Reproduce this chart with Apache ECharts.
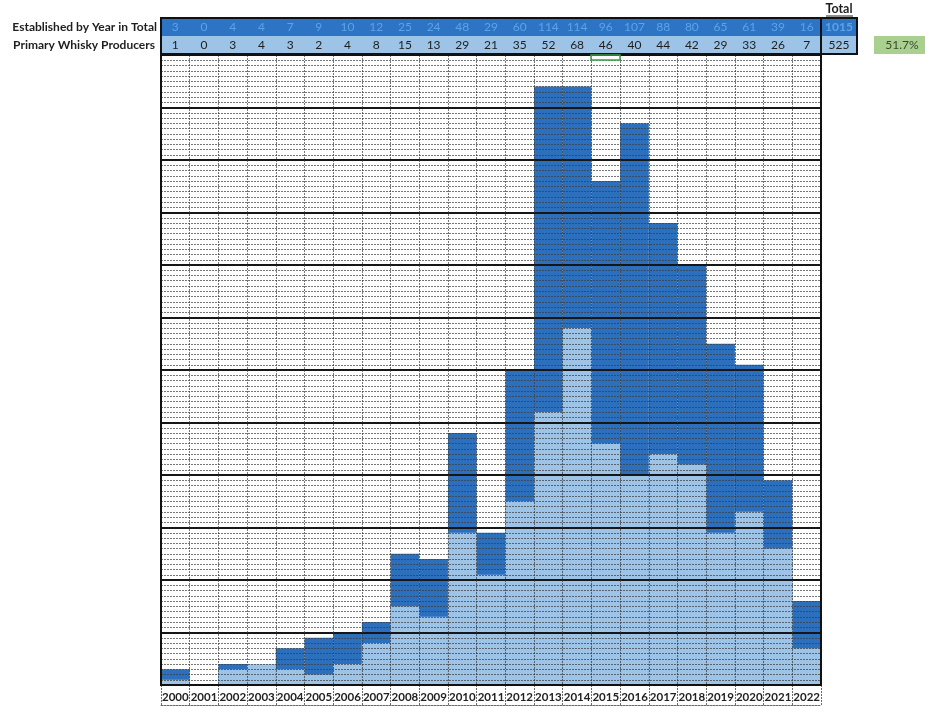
<!DOCTYPE html>
<html>
<head>
<meta charset="utf-8">
<script src="https://cdn.jsdelivr.net/npm/echarts/dist/echarts.min.js"></script>
<style>
html,body{margin:0;padding:0;background:#fff;}
#chart{width:925px;height:709px;}
</style>
</head>
<body>
<div id="chart"></div>
<script>
// ---- data ----
const years = ['2000','2001','2002','2003','2004','2005','2006','2007','2008','2009','2010','2011','2012','2013','2014','2015','2016','2017','2018','2019','2020','2021','2022'];
const totalByYear = [3,0,4,4,7,9,10,12,25,24,48,29,60,114,114,96,107,88,80,65,61,39,16];
const primaryProducers = [1,0,3,4,3,2,4,8,15,13,29,21,35,52,68,46,40,44,42,29,33,26,7];
const rowLabels = ['Established by Year in Total', 'Primary Whisky Producers'];
const totalHeader = 'Total';

// derived
const sumTotal = totalByYear.reduce((a, b) => a + b, 0);
const sumPrimary = primaryProducers.reduce((a, b) => a + b, 0);
const share = (sumPrimary / sumTotal * 100).toFixed(1) + '%';

// ---- layout ----
const L = 161, R = 821, TOP = 55, BOT = 685;
const TBL_TOP = 18, ROW_H = 18, TBL_RIGHT = 857;
const DARK = '#2C6FBC', LIGHT = '#9DC3E6';
const ROW1_BG = '#2E74C4', ROW1_TXT = '#5EA2E6';
const FONT = "'Lato', sans-serif";
const dotted = { color: 'rgba(60,60,60,0.7)', width: 1, type: [2, 1] };
const boxLine = { color: '#6a6a6a', width: 1, type: [2, 1] };

const chart = echarts.init(document.getElementById('chart'));
chart.setOption({
  animation: false,
  backgroundColor: '#ffffff',
  grid: [
    { left: L, right: 925 - R, top: TOP, bottom: 709 - BOT, show: true, backgroundColor: 'transparent', borderColor: '#111', borderWidth: 2, z: 10 }
  ],
  xAxis: [
    { gridIndex: 0, type: 'category', data: years, z: 5,
      axisLine: { show: false },
      axisTick: { show: true, interval: 0, length: 20, lineStyle: boxLine },
      axisLabel: { interval: 0, margin: 6, fontFamily: FONT, fontSize: 11.5, fontWeight: 'bold', color: '#222' },
      splitLine: { show: true, interval: 0, lineStyle: dotted } },
    { gridIndex: 0, type: 'category', data: totalByYear.map(String), position: 'top', z: 5,
      axisLine: { show: false }, axisTick: { show: false },
      axisLabel: { interval: 0, margin: 28, verticalAlign: 'middle', fontFamily: FONT, fontSize: 12, color: ROW1_TXT } },
    { gridIndex: 0, type: 'category', data: primaryProducers.map(String), position: 'top', z: 5,
      axisLine: { show: false }, axisTick: { show: false },
      axisLabel: { interval: 0, margin: 10, verticalAlign: 'middle', fontFamily: FONT, fontSize: 12, color: '#1e1e1e' } },
    { gridIndex: 0, type: 'category', data: years, position: 'bottom', offset: 20, z: 5,
      axisLine: { show: true, lineStyle: boxLine }, axisTick: { show: false }, axisLabel: { show: false },
      splitLine: { show: false } }
  ],
  yAxis: [
    { gridIndex: 0, type: 'value', min: 0, max: 120, interval: 10, z: 5,
      axisLine: { show: false }, axisTick: { show: false }, axisLabel: { show: false },
      splitLine: { show: true, lineStyle: { color: '#161616', width: 2 } },
      minorTick: { show: false, splitNumber: 10 },
      minorSplitLine: { show: true, lineStyle: dotted } }
  ],
  series: [
    { name: 'Established by Year in Total', type: 'bar', xAxisIndex: 0, yAxisIndex: 0,
      data: totalByYear, barWidth: '100%', barGap: '-100%', barCategoryGap: 0,
      itemStyle: { color: DARK }, z: 2 },
    { name: 'Primary Whisky Producers', type: 'bar', xAxisIndex: 0, yAxisIndex: 0,
      data: primaryProducers, barWidth: '100%', barGap: '-100%', barCategoryGap: 0,
      itemStyle: { color: LIGHT }, z: 3 }
  ],
  graphic: [
    { type: 'rect', z: 1, shape: { x: L, y: TBL_TOP, width: TBL_RIGHT - L, height: ROW_H }, style: { fill: ROW1_BG } },
    { type: 'rect', z: 1, shape: { x: L, y: TBL_TOP + ROW_H, width: TBL_RIGHT - L, height: ROW_H }, style: { fill: LIGHT } },
    { type: 'rect', z: 30, shape: { x: L, y: TBL_TOP, width: TBL_RIGHT - L, height: ROW_H * 2 }, style: { fill: 'none', stroke: '#111', lineWidth: 2 } },
    { type: 'line', z: 30, shape: { x1: R, y1: TBL_TOP, x2: R, y2: TBL_TOP + ROW_H * 2 }, style: { stroke: '#111', lineWidth: 2 } },
    { type: 'text', z: 30, x: (R + TBL_RIGHT) / 2, y: TBL_TOP + ROW_H / 2,
      style: { text: String(sumTotal), align: 'center', verticalAlign: 'middle', font: "bold 12px " + FONT, fill: ROW1_TXT } },
    { type: 'text', z: 30, x: (R + TBL_RIGHT) / 2, y: TBL_TOP + ROW_H * 1.5,
      style: { text: String(sumPrimary), align: 'center', verticalAlign: 'middle', font: "12px " + FONT, fill: '#1e1e1e' } },
    { type: 'text', z: 30, x: (R + TBL_RIGHT) / 2, y: 9,
      style: { text: totalHeader, align: 'center', verticalAlign: 'middle', font: "bold 12.5px " + FONT, fill: '#1e1e1e' } },
    { type: 'line', z: 30, shape: { x1: 826, y1: 16, x2: 853, y2: 16 }, style: { stroke: '#1e1e1e', lineWidth: 1 } },
    { type: 'text', z: 30, x: 157, y: TBL_TOP + ROW_H / 2,
      style: { text: rowLabels[0], align: 'right', verticalAlign: 'middle', font: "bold 12px " + FONT, fill: '#1e1e1e' } },
    { type: 'text', z: 30, x: 155, y: TBL_TOP + ROW_H * 1.5,
      style: { text: rowLabels[1], align: 'right', verticalAlign: 'middle', font: "bold 12px " + FONT, fill: '#1e1e1e' } },
    { type: 'rect', z: 30, shape: { x: 874, y: TBL_TOP + ROW_H, width: 51, height: ROW_H }, style: { fill: '#A9D08E' } },
    { type: 'text', z: 31, x: 902, y: TBL_TOP + ROW_H * 1.5,
      style: { text: share, align: 'center', verticalAlign: 'middle', font: "12px " + FONT, fill: '#3a4a30' } },
    { type: 'rect', z: 31, shape: { x: 591, y: TOP, width: 29, height: 5 }, style: { fill: 'none', stroke: '#3aa04a', lineWidth: 1.5 } }
  ]
});
</script>
</body>
</html>
